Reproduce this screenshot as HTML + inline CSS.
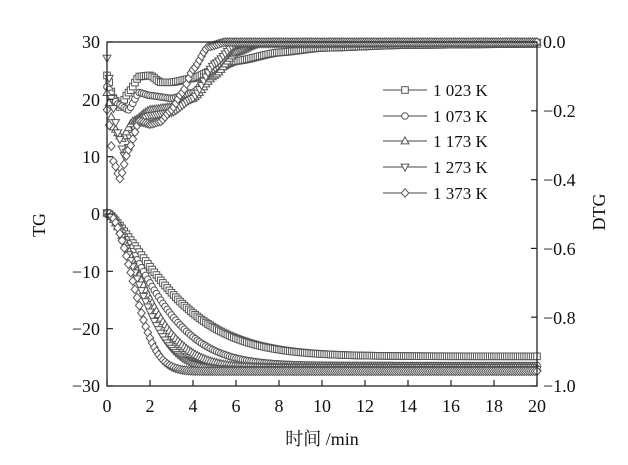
<!DOCTYPE html>
<html><head><meta charset="utf-8"><style>
html,body{margin:0;padding:0;background:#fff;width:628px;height:465px;overflow:hidden}
svg text{font-family:"Liberation Serif","Noto Serif CJK SC",serif;fill:#111}
</style></head><body>
<svg id="s" width="628" height="465" xmlns="http://www.w3.org/2000/svg">
<g id="data"></g>
<rect x="107" y="42" width="430" height="344" fill="none" stroke="#222" stroke-width="1.3"/>
<g id="ticks" stroke="#222" stroke-width="1.2"></g>
<g font-size="18">
<text x="100" y="48" text-anchor="end">30</text>
<text x="100" y="106" text-anchor="end">20</text>
<text x="100" y="163" text-anchor="end">10</text>
<text x="100" y="220" text-anchor="end">0</text>
<text x="100" y="278" text-anchor="end">−10</text>
<text x="100" y="335" text-anchor="end">−20</text>
<text x="100" y="392" text-anchor="end">−30</text>
<text x="543" y="48">0.0</text>
<text x="543" y="117">−0.2</text>
<text x="543" y="186">−0.4</text>
<text x="543" y="255">−0.6</text>
<text x="543" y="324">−0.8</text>
<text x="543" y="392">−1.0</text>
</g>
<g id="xl" font-size="18" text-anchor="middle"></g>
<text x="45" y="225" font-size="18" text-anchor="middle" transform="rotate(-90 45 225)">TG</text>
<text x="605" y="212" font-size="18" text-anchor="middle" transform="rotate(-90 605 212)">DTG</text>
<text x="322" y="445" font-size="18" text-anchor="middle">时间 /min</text>
<g id="leg"></g>
</svg>
<script>
const X=t=>107+t*21.5, Y=v=>213-v*5.733;
const NS="http://www.w3.org/2000/svg";
function mk(type,x,y,g){let e;const r=3.3;
 if(type==0){e=document.createElementNS(NS,"rect");e.setAttribute("x",x-r);e.setAttribute("y",y-r);e.setAttribute("width",2*r);e.setAttribute("height",2*r);}
 else if(type==1){e=document.createElementNS(NS,"circle");e.setAttribute("cx",x);e.setAttribute("cy",y);e.setAttribute("r",r);}
 else{e=document.createElementNS(NS,"polygon");let p;
  if(type==2)p=[[x,y-r-0.8],[x-r-0.6,y+r-0.4],[x+r+0.6,y+r-0.4]];
  else if(type==3)p=[[x,y+r+0.8],[x-r-0.6,y-r+0.4],[x+r+0.6,y-r+0.4]];
  else p=[[x,y-r-1],[x+r+0.5,y],[x,y+r+1],[x-r-0.5,y]];
  e.setAttribute("points",p.map(a=>a.join(",")).join(" "));}
 e.setAttribute("fill","#fff");e.setAttribute("stroke","#555");e.setAttribute("stroke-width","1");g.appendChild(e);}
const g=document.getElementById("data");
function interp(pts,t){for(let i=1;i<pts.length;i++){if(t<=pts[i][0]){const a=pts[i-1],b=pts[i];const f=(t-a[0])/(b[0]-a[0]);const s=f*f*(3-2*f);return a[1]+(b[1]-a[1])*(0.5*f+0.5*s);}}return pts[pts.length-1][1];}
const dtg=[
[[0,24],[0.3,20],[0.6,18.5],[1,21],[1.5,23.8],[2,24],[2.5,22.8],[3,22.8],[4,23.5],[5,25],[6,26.5],[8,28],[10,28.8],[14,29.3],[20,29.5]],
[[0,22],[0.5,19],[1,18],[1.5,21],[2,20.5],[3,20],[4,21],[5,25],[6,28.5],[7,29.5],[20,29.8]],
[[0,21],[0.3,15],[0.7,13],[1.2,16],[2,18],[3,18.5],[4,20],[5,24],[6,28],[7,29.5],[20,29.8]],
[[0,27],[0.2,20],[0.5,14],[0.8,10],[1.5,16],[2,17],[3,17.5],[4,20],[5,26],[6,29.5],[20,29.8]],
[[0,18],[0.3,9],[0.6,6],[1,11],[1.5,16],[2,15.5],[2.5,16],[3,18],[3.5,21],[4,25],[4.7,29],[5.5,29.8],[20,29.8]]];
const tg=[[-25,3.5,1.35],[-26.6,2.8,1.45],[-27,2.3,1.55],[-27.3,2.0,1.7],[-27.6,1.6,2.0]];
for(let k=0;k<5;k++){
 for(let t=0;t<=20.001;t+=0.1){
  const [A,tau,n]=tg[k];mk(k,X(t),Y(A*(1-Math.exp(-Math.pow(t/tau,n)))),g);
  mk(k,X(t),Y(interp(dtg[k],t)),g);}
}
const tk=document.getElementById("ticks"),xl=document.getElementById("xl");
function line(x1,y1,x2,y2){const l=document.createElementNS(NS,"line");l.setAttribute("x1",x1);l.setAttribute("y1",y1);l.setAttribute("x2",x2);l.setAttribute("y2",y2);tk.appendChild(l);}
for(let i=0;i<=10;i++){const x=X(i*2);line(x,386,x,380);const t=document.createElementNS(NS,"text");t.setAttribute("x",x);t.setAttribute("y",412);t.textContent=i*2;xl.appendChild(t);}
for(let i=0;i<=6;i++){const y=42+i*57.33;line(107,y,113,y);}
for(let i=0;i<=5;i++){const y=42+i*68.8;line(537,y,531,y);}
const lg=document.getElementById("leg"),labs=["1 023 K","1 073 K","1 173 K","1 273 K","1 373 K"],ly=[90,116,141,167,193];
for(let k=0;k<5;k++){const l=document.createElementNS(NS,"line");l.setAttribute("x1",383);l.setAttribute("x2",427);l.setAttribute("y1",ly[k]);l.setAttribute("y2",ly[k]);l.setAttribute("stroke","#444");lg.appendChild(l);
 mk(k,405,ly[k],lg);const t=document.createElementNS(NS,"text");t.setAttribute("x",433);t.setAttribute("y",ly[k]+6);t.setAttribute("font-size","17");t.textContent=labs[k];lg.appendChild(t);}
</script>
</body></html>
